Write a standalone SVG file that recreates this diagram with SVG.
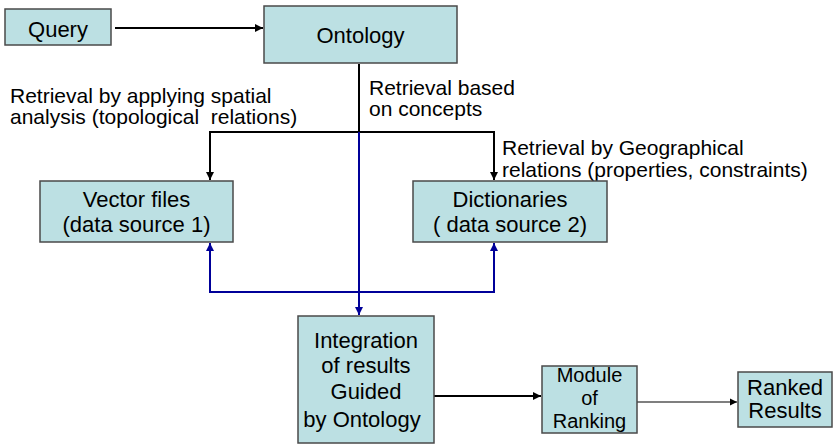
<svg xmlns="http://www.w3.org/2000/svg" width="834" height="445" viewBox="0 0 834 445">
<defs>
<style>
.box{fill:#bce0e3;stroke:#4a4a4a;stroke-width:1.5}
.bt{font-family:"Liberation Sans",Arial,sans-serif;font-size:22px;fill:#000;text-anchor:middle}
.sm{font-size:20px}
.lb{font-family:"Liberation Sans",Arial,sans-serif;font-size:21px;fill:#000;white-space:pre}
.k{fill:none;stroke:#000;stroke-width:2}
.k1{fill:none;stroke:#000;stroke-width:1.2}
.b{fill:none;stroke:#000099;stroke-width:2}
</style>
<marker id="ak" viewBox="0 0 10 10" refX="10" refY="5" markerWidth="4" markerHeight="4" orient="auto" markerUnits="strokeWidth"><path d="M0,0 L10,5 L0,10 z" fill="#000"/></marker>
<marker id="ak1" viewBox="0 0 10 10" refX="10" refY="5" markerWidth="6" markerHeight="6" orient="auto" markerUnits="strokeWidth"><path d="M0,0 L10,5 L0,10 z" fill="#000"/></marker>
<marker id="ab" viewBox="0 0 10 10" refX="10" refY="5" markerWidth="4" markerHeight="4" orient="auto" markerUnits="strokeWidth"><path d="M0,0 L10,5 L0,10 z" fill="#000099"/></marker>
</defs>
<rect width="834" height="445" fill="#fff"/>
<g id="connectors">
<line class="k" x1="115" y1="28" x2="263" y2="28" marker-end="url(#ak)"/>
<polyline class="k" points="359,64 359,132"/>
<polyline class="k" points="359,132 210,132 210,180" marker-end="url(#ak)"/>
<polyline class="k" points="359,132 494,132 494,180" marker-end="url(#ak)"/>
<line class="b" x1="359" y1="132" x2="359" y2="315" marker-end="url(#ab)"/>
<polyline class="b" points="359,292 210,292 210,243" marker-end="url(#ab)"/>
<polyline class="b" points="359,292 494,292 494,243" marker-end="url(#ab)"/>
<line class="k" x1="434" y1="396" x2="541" y2="396" marker-end="url(#ak)"/>
<line class="k1" x1="637" y1="402" x2="737" y2="402" marker-end="url(#ak1)"/>
</g>
<g id="labels">
<text class="lb" x="10" y="103">Retrieval by applying spatial</text>
<text class="lb" x="10" y="124">analysis (topological  relations)</text>
<text class="lb" x="369" y="95">Retrieval based</text>
<text class="lb" x="369" y="116">on concepts</text>
<text class="lb" x="502" y="155">Retrieval by Geographical</text>
<text class="lb" x="502" y="177">relations (properties, constraints)</text>
</g>
<g id="query"><rect class="box" x="5" y="9" width="106" height="36"/><text class="bt" x="58" y="37">Query</text></g>
<g id="ontology"><rect class="box" x="264" y="6" width="193" height="57"/><text class="bt" x="360.5" y="43">Ontology</text></g>
<g id="vector"><rect class="box" x="40" y="181" width="193" height="61"/><text class="bt" x="136.5" y="207">Vector files</text><text class="bt" x="136.5" y="232">(data source 1)</text></g>
<g id="dictionaries"><rect class="box" x="413" y="181" width="194" height="61"/><text class="bt" x="510" y="207">Dictionaries</text><text class="bt" x="510" y="232">( data source 2)</text></g>
<g id="integration"><rect class="box" x="298" y="316" width="136" height="127"/><text class="bt" x="366" y="348">Integration</text><text class="bt" x="366" y="373">of results</text><text class="bt" x="366" y="399">Guided</text><text class="bt" x="362" y="427">by Ontology</text></g>
<g id="module"><rect class="box" x="542" y="366" width="95" height="67"/><text class="bt sm" x="589.5" y="382">Module</text><text class="bt sm" x="589.5" y="405">of</text><text class="bt sm" x="589.5" y="428">Ranking</text></g>
<g id="ranked"><rect class="box" x="738" y="372" width="94" height="55"/><text class="bt" x="785" y="395">Ranked</text><text class="bt" x="785" y="418">Results</text></g>
</svg>
